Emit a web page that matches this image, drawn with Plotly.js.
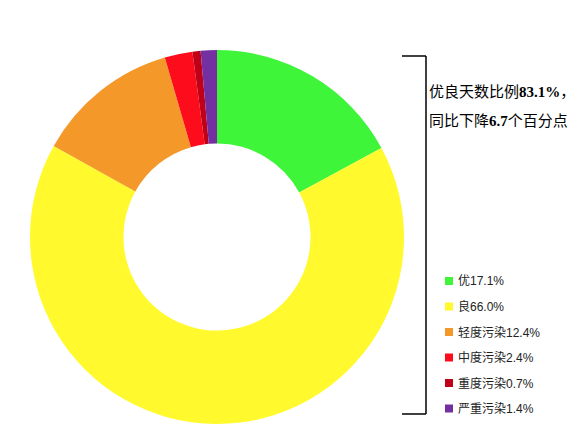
<!DOCTYPE html>
<html>
<head>
<meta charset="utf-8">
<script src="https://cdn.plot.ly/plotly-3.0.1.min.js"></script>
<style>
  html, body { margin: 0; padding: 0; background: #fff; }
  #chart { width: 586px; height: 425px; }
</style>
</head>
<body>
<div id="chart"></div>
<script>
// air quality day categories, share of days (%)
var labels = ['优', '良', '轻度污染', '中度污染', '重度污染', '严重污染'];
var shares = [17.1, 66.0, 12.4, 2.4, 0.7, 1.4];
var colors = ['#3ef53a', '#fff92e', '#f5982a', '#fd0d1c', '#c00018', '#7430a0'];

var W = 586, H = 425;
// helpers: pixel -> paper coords
var px = function(x) { return x / W; };
var py = function(y) { return 1 - y / H; };

var trace = {
  type: 'pie',
  labels: labels,
  values: shares,
  marker: { colors: colors, line: { width: 0 } },
  hole: 0.5,
  sort: false,
  direction: 'clockwise',
  rotation: 0,
  textinfo: 'none',
  hoverinfo: 'none',
  showlegend: false,
  domain: { x: [px(30), px(404)], y: [py(424), py(50)] }
};

var shapes = [
  // bracket on the right
  { type: 'line', xref: 'paper', yref: 'paper', x0: px(402), x1: px(426), y0: py(56), y1: py(56), line: { color: '#000', width: 1.5 } },
  { type: 'line', xref: 'paper', yref: 'paper', x0: px(426), x1: px(426), y0: py(56), y1: py(414), line: { color: '#000', width: 1.5 } },
  { type: 'line', xref: 'paper', yref: 'paper', x0: px(402), x1: px(426), y0: py(414), y1: py(414), line: { color: '#000', width: 1.5 } }
];

var annotations = [
  { xref: 'paper', yref: 'paper', x: px(427), y: py(92), xanchor: 'left', yanchor: 'middle', showarrow: false,
    text: '优良天数比例<b>83.1%</b>，', font: { family: 'Liberation Serif, Noto Sans CJK SC', size: 15, color: '#000' } },
  { xref: 'paper', yref: 'paper', x: px(427), y: py(121), xanchor: 'left', yanchor: 'middle', showarrow: false,
    text: '同比下降<b>6.7</b>个百分点', font: { family: 'Liberation Serif, Noto Sans CJK SC', size: 15, color: '#000' } }
];

// hand-made legend, built from the arrays
labels.forEach(function(lab, i) {
  var yc = 281 + i * 25.5;
  shapes.push({ type: 'rect', xref: 'paper', yref: 'paper',
    x0: px(445), x1: px(453), y0: py(yc - 4), y1: py(yc + 4),
    fillcolor: colors[i], line: { width: 0 } });
  annotations.push({ xref: 'paper', yref: 'paper', x: px(456), y: py(yc), xanchor: 'left', yanchor: 'middle',
    showarrow: false, text: lab + shares[i].toFixed(1) + '%',
    font: { family: 'Liberation Sans, Noto Sans CJK SC', size: 12, color: '#222' } });
});

var layout = {
  width: W,
  height: H,
  margin: { l: 0, r: 0, t: 0, b: 0 },
  paper_bgcolor: '#fff',
  showlegend: false,
  shapes: shapes,
  annotations: annotations
};

Plotly.newPlot('chart', [trace], layout, { displayModeBar: false, staticPlot: true });
</script>
</body>
</html>
